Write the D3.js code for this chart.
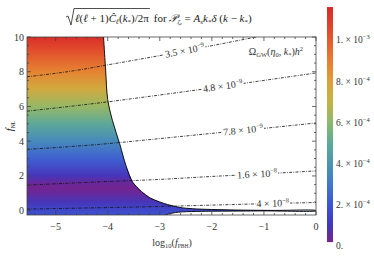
<!DOCTYPE html>
<meta charset="utf-8">
<script src="https://d3js.org/d3.v7.min.js"></script>
<style>
  body { margin: 0; background: #fff; }
  svg { font-family: "Liberation Serif", "DejaVu Serif", serif; }
</style>
<div id="chart"></div>
<script>
// ---- data ----
const xDomain = [-5.55, 0];          // log10(f_PBH)
const yDomain = [-0.25, 10];         // f_NL
const xMajor = [-5, -4, -3, -2, -1, 0];
const yMajor = [0, 2, 4, 6, 8, 10];

// colour value along f_NL inside the allowed region
const fnlLevels  = [-0.25, 0, 0.5, 1, 1.3, 1.6, 2, 3, 4, 5, 6, 7, 8, 9, 10];
const fillValues = [1.9e-4, 1.6e-4, 0.9e-4, 0.3e-4, 0.1e-4, 0.3e-4, 0.9e-4, 2.3e-4, 3.6e-4, 4.9e-4, 6.2e-4, 7.5e-4, 8.8e-4, 1.01e-3, 1.14e-3];

// region boundary [log10 fPBH, fNL]
const upperEdge = [[-4.08, 10], [-4.04, 8.1], [-4.0, 6.4], [-3.91, 5.2], [-3.77, 3.85], [-3.65, 2.6], [-3.52, 1.64],
  [-3.35, 1.1], [-3.19, 0.74], [-3.0, 0.5], [-2.85, 0.35], [-2.7, 0.24], [-2.56, 0.16], [-2.3, 0.1], [-1.9, 0.06],
  [-1.4, 0.03], [-0.8, 0.015], [0, 0.01]];
const lowerEdge = [[0, -0.01], [-1, -0.015], [-1.9, -0.03], [-2.2, -0.04], [-2.56, -0.07], [-2.7, -0.11], [-2.8, -0.17], [-2.9, -0.25]];

// Omega_GW contours
const contourNames = ["3.5", "4.8", "7.8", "1.6", "4"];
const contourExps  = ["−9", "−9", "−9", "−8", "−8"];
const contourLabelAt = [-2.52, -1.79, -1.40, -1.13, -0.83];
const contours = [
  [[-5.55, 7.71], [-4.6, 8.08], [-4.03, 8.38], [-3, 8.93], [-2, 9.5], [-1.15, 10]],
  [[-5.55, 5.73], [-4.15, 6.21], [-3, 6.66], [-2, 7.07], [-1, 7.5], [0, 7.93]],
  [[-5.55, 3.53], [-4.15, 3.82], [-3, 4.15], [-2, 4.45], [-1, 4.74], [0, 5.05]],
  [[-5.55, 1.47], [-4.15, 1.66], [-3, 1.8], [-2, 1.97], [-1, 2.12], [0, 2.29]],
  [[-5.55, 0.09], [-4.15, 0.17], [-3, 0.24], [-2, 0.32], [-1, 0.4], [0, 0.47]]
];

// colour bar
const cbValues = [0, 1e-4, 2e-4, 3e-4, 4e-4, 5e-4, 6e-4, 7e-4, 8e-4, 9e-4, 1e-3, 1.16e-3];
const cbColors = ["#78238c", "#4137be", "#3c55d2", "#4178cd", "#4b96af", "#5faa96", "#8cb96e", "#c3b446", "#dea037", "#e87d32", "#e45a2d", "#da2828"];
const cbRange = [1.9e-5, 1.16e-3];
const cbTicks = [0, 2e-4, 4e-4, 6e-4, 8e-4, 1e-3];
const cbTickBase = ["0.", "2. × 10", "4. × 10", "6. × 10", "8. × 10", "1. × 10"];
const cbTickExp  = ["", "−4", "−4", "−4", "−4", "−3"];

// ---- drawing ----
const svg = d3.select("#chart").append("svg").attr("width", 374).attr("height", 256);

const x = d3.scaleLinear().domain(xDomain).range([27, 316]);
const y = d3.scaleLinear().domain(yDomain).range([215, 37]);
const color = d3.scaleLinear().domain(cbValues).range(cbColors).clamp(true);

const defs = svg.append("defs");
defs.append("clipPath").attr("id", "plotClip")
  .append("rect").attr("x", x(xDomain[0])).attr("y", y(yDomain[1]))
  .attr("width", x(xDomain[1]) - x(xDomain[0])).attr("height", y(yDomain[0]) - y(yDomain[1]));

const grad = defs.append("linearGradient").attr("id", "fillGrad")
  .attr("gradientUnits", "userSpaceOnUse")
  .attr("x1", 0).attr("x2", 0).attr("y1", y(yDomain[0])).attr("y2", y(yDomain[1]));
grad.selectAll("stop").data(fnlLevels).join("stop")
  .attr("offset", d => (d - yDomain[0]) / (yDomain[1] - yDomain[0]))
  .attr("stop-color", (d, i) => color(fillValues[i]));

const plot = svg.append("g").attr("clip-path", "url(#plotClip)");

const regionPts = [[xDomain[0], yDomain[1]]].concat(upperEdge, lowerEdge, [[xDomain[0], yDomain[0]]]);
const line = d3.line().x(d => x(d[0])).y(d => y(d[1]));

plot.append("path")
  .attr("d", line(regionPts) + "Z")
  .attr("fill", "url(#fillGrad)");

plot.append("path")
  .attr("d", line.curve(d3.curveCatmullRom)(upperEdge.concat(lowerEdge)))
  .attr("fill", "none").attr("stroke", "#000").attr("stroke-width", 0.9);

// contours
const cLine = d3.line().x(d => x(d[0])).y(d => y(d[1])).curve(d3.curveMonotoneX);
plot.selectAll(".contour").data(contours).join("path")
  .attr("class", "contour")
  .attr("d", cLine)
  .attr("fill", "none").attr("stroke", "#111").attr("stroke-width", 0.8)
  .attr("stroke-dasharray", "3,1.3,0.8,1.3");

function fAt(pts, lx) {
  for (let i = 1; i < pts.length; i++) {
    if (lx <= pts[i][0]) {
      const t = (lx - pts[i - 1][0]) / (pts[i][0] - pts[i - 1][0]);
      return [pts[i - 1][1] + t * (pts[i][1] - pts[i - 1][1]), i];
    }
  }
  return [pts[pts.length - 1][1], pts.length - 1];
}

contours.forEach((pts, k) => {
  const lx = contourLabelAt[k];
  const [lf, i] = fAt(pts, lx);
  const a = pts[i - 1], b = pts[i];
  const ang = Math.atan2(y(b[1]) - y(a[1]), x(b[0]) - x(a[0])) * 180 / Math.PI;
  const g = plot.append("g").attr("transform", `translate(${x(lx)},${y(lf)}) rotate(${ang})`);
  const bg = g.append("rect").attr("fill", "#fff");
  const t = g.append("text").attr("text-anchor", "middle").attr("dy", "0.32em")
    .attr("font-size", 10).attr("fill", "#333");
  t.append("tspan").text(contourNames[k] + " × 10");
  t.append("tspan").attr("font-size", 6.5).attr("dy", -4).text(contourExps[k]);
  const bb = t.node().getBBox();
  bg.attr("x", bb.x - 1).attr("y", bb.y + 1.5).attr("width", bb.width + 2).attr("height", bb.height - 3);
});

// Omega_GW label
const om = svg.append("text").attr("x", x(-0.77)).attr("y", y(9.14)).attr("dy", "0.32em")
  .attr("text-anchor", "middle").attr("font-size", 10).attr("fill", "#333");
om.append("tspan").text("Ω");
om.append("tspan").attr("font-size", 6.5).attr("dy", 2).text("GW");
om.append("tspan").attr("dy", -2).text("(");
om.append("tspan").attr("font-style", "italic").text("η");
om.append("tspan").attr("font-size", 6.5).attr("dy", 2).text("0");
om.append("tspan").attr("dy", -2).text(", ");
om.append("tspan").attr("font-style", "italic").text("k");
om.append("tspan").attr("font-size", 6.5).attr("dy", 2).text("*");
om.append("tspan").attr("dy", -2).text(")");
om.append("tspan").attr("font-style", "italic").text("h");
om.append("tspan").attr("font-size", 6.5).attr("dy", -4).text("2");

// frame & ticks
const frame = svg.append("g").attr("stroke", "#444").attr("stroke-width", 0.8);
frame.append("rect").attr("x", x(xDomain[0])).attr("y", y(yDomain[1]))
  .attr("width", x(xDomain[1]) - x(xDomain[0])).attr("height", y(yDomain[0]) - y(yDomain[1]))
  .attr("fill", "none");

const xMinor = d3.range(-5.4, 0.01, 0.2).filter(v => Math.abs(v - Math.round(v)) > 0.01);
const yMinor = d3.range(-0, 10.01, 0.5).filter(v => v % 2 !== 0);

function ticksX(vals, len) {
  vals.forEach(v => {
    frame.append("line").attr("x1", x(v)).attr("x2", x(v)).attr("y1", y(yDomain[0])).attr("y2", y(yDomain[0]) - len);
    frame.append("line").attr("x1", x(v)).attr("x2", x(v)).attr("y1", y(yDomain[1])).attr("y2", y(yDomain[1]) + len);
  });
}
function ticksY(vals, len) {
  vals.forEach(v => {
    frame.append("line").attr("y1", y(v)).attr("y2", y(v)).attr("x1", x(xDomain[0])).attr("x2", x(xDomain[0]) + len);
    frame.append("line").attr("y1", y(v)).attr("y2", y(v)).attr("x1", x(xDomain[1])).attr("x2", x(xDomain[1]) - len);
  });
}
ticksX(xMajor, 4); ticksX(xMinor, 2);
ticksY(yMajor, 4); ticksY(yMinor, 2);

svg.append("g").selectAll("text").data(xMajor).join("text")
  .attr("x", d => x(d)).attr("y", 230).attr("text-anchor", "middle")
  .attr("font-size", 10).attr("fill", "#333")
  .text(d => d < 0 ? "−" + Math.abs(d) : d);

svg.append("g").selectAll("text").data(yMajor).join("text")
  .attr("x", 24).attr("y", d => y(d)).attr("dy", "0.35em").attr("text-anchor", "end")
  .attr("font-size", 10).attr("fill", "#333")
  .text(d => d);

// axis labels
const xl = svg.append("text").attr("x", 172).attr("y", 246).attr("text-anchor", "middle")
  .attr("font-size", 10).attr("fill", "#333");
xl.append("tspan").text("log");
xl.append("tspan").attr("font-size", 6.5).attr("dy", 2).text("10");
xl.append("tspan").attr("dy", -2).text("(");
xl.append("tspan").attr("font-style", "italic").text("f");
xl.append("tspan").attr("font-size", 5.5).attr("dy", 2).text("PBH");
xl.append("tspan").attr("dy", -2).text(")");

const yl = svg.append("text").attr("transform", "translate(13,126) rotate(-90)").attr("text-anchor", "middle")
  .attr("font-size", 11).attr("fill", "#333");
yl.append("tspan").attr("font-style", "italic").text("f");
yl.append("tspan").attr("font-size", 5.5).attr("dy", 2).text("NL");

// title
const title = svg.append("g").attr("fill", "#222");
const rad = title.append("text").attr("x", 75).attr("y", 22).attr("font-size", 11);
rad.append("tspan").attr("font-style", "italic").text("ℓ");
rad.append("tspan").text("(");
rad.append("tspan").attr("font-style", "italic").text("ℓ");
rad.append("tspan").text(" + 1)");
rad.append("tspan").attr("font-style", "italic").text("Ĉ");
rad.append("tspan").attr("font-style", "italic").attr("font-size", 7).attr("dy", 2).text("ℓ");
rad.append("tspan").attr("dy", -2).text("(");
rad.append("tspan").attr("font-style", "italic").text("k");
rad.append("tspan").attr("font-size", 7).attr("dy", 2).text("*");
rad.append("tspan").attr("dy", -2).text(")/2π");
const rw = rad.node().getComputedTextLength();
title.append("path")
  .attr("d", `M66,17 L68,16 L71,25 L74,8.5 L${76 + rw},8.5`)
  .attr("fill", "none").attr("stroke", "#222").attr("stroke-width", 0.8);
const rest = title.append("text").attr("x", 80 + rw).attr("y", 22).attr("font-size", 11);
rest.append("tspan").text(" for ");
rest.append("tspan").attr("font-style", "italic").text("𝒫");
rest.append("tspan").attr("font-style", "italic").attr("font-size", 6).attr("dy", 2).text("ζ");
rest.append("tspan").attr("font-style", "italic").attr("font-size", 4.5).attr("dy", 1).text("e");
rest.append("tspan").attr("dy", -3).text(" = ");
rest.append("tspan").attr("font-style", "italic").text("A");
rest.append("tspan").attr("font-style", "italic").attr("font-size", 7).attr("dy", 2).text("s");
rest.append("tspan").attr("font-style", "italic").attr("dy", -2).text("k");
rest.append("tspan").attr("font-size", 7).attr("dy", 2).text("*");
rest.append("tspan").attr("font-style", "italic").attr("dy", -2).text("δ");
rest.append("tspan").text(" (");
rest.append("tspan").attr("font-style", "italic").text("k");
rest.append("tspan").text(" − ");
rest.append("tspan").attr("font-style", "italic").text("k");
rest.append("tspan").attr("font-size", 7).attr("dy", 2).text("*");
rest.append("tspan").attr("dy", -2).text(")");

// colour bar
const cb = d3.scaleLinear().domain([0, 1e-3]).range([246, 40]);
const cbGrad = defs.append("linearGradient").attr("id", "cbGrad")
  .attr("gradientUnits", "userSpaceOnUse")
  .attr("x1", 0).attr("x2", 0).attr("y1", cb(cbRange[0])).attr("y2", cb(cbRange[1]));
cbGrad.selectAll("stop").data(cbValues).join("stop")
  .attr("offset", d => Math.max(0, (d - cbRange[0]) / (cbRange[1] - cbRange[0])))
  .attr("stop-color", d => color(d));
svg.append("rect").attr("x", 327).attr("width", 6)
  .attr("y", cb(cbRange[1])).attr("height", cb(cbRange[0]) - cb(cbRange[1]))
  .attr("fill", "url(#cbGrad)");

cbTicks.forEach((v, i) => {
  const t = svg.append("text").attr("x", 336).attr("y", cb(v)).attr("dy", "0.35em")
    .attr("font-size", 9.5).attr("fill", "#333");
  t.append("tspan").text(cbTickBase[i]);
  if (cbTickExp[i]) t.append("tspan").attr("font-size", 6.5).attr("dy", -4).text(cbTickExp[i]);
});
</script>
